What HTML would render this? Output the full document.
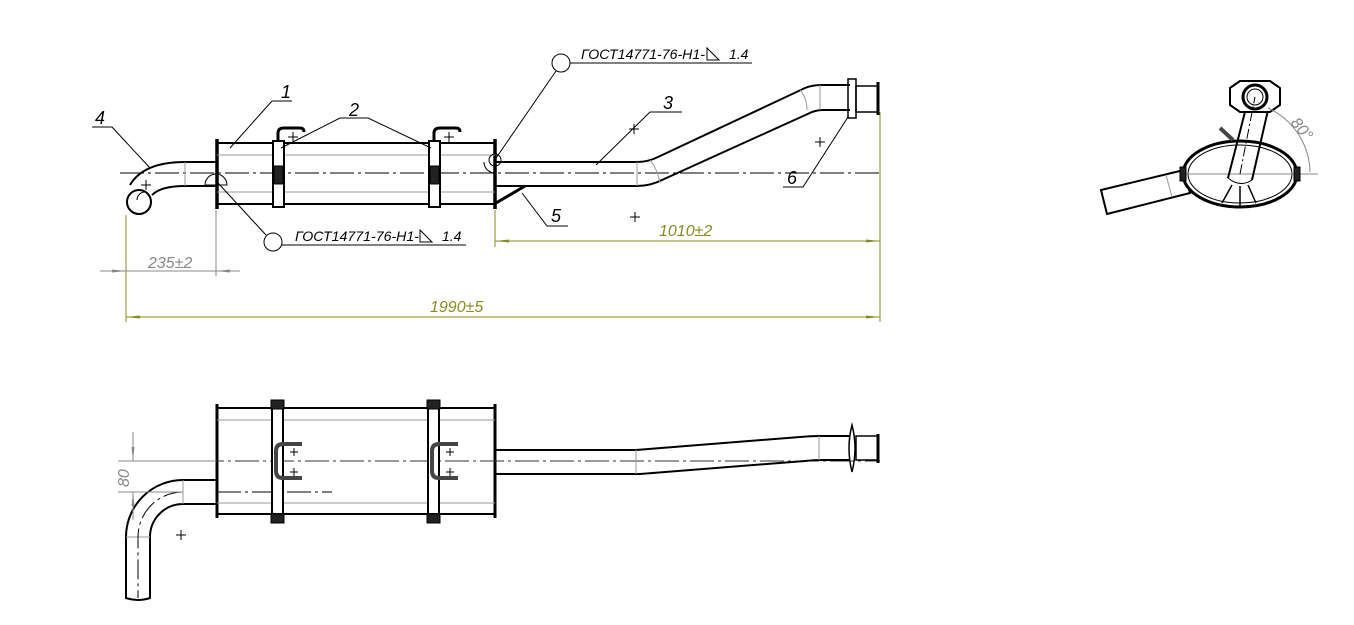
<!DOCTYPE html>
<html><head><meta charset="utf-8"><style>
html,body{margin:0;padding:0;background:#fff;width:1354px;height:625px;overflow:hidden}
svg{display:block}
text{font-family:"Liberation Sans",sans-serif;font-style:italic}
</style></head><body>
<svg width="1354" height="625" viewBox="0 0 1354 625" xmlns="http://www.w3.org/2000/svg">
<defs>
<marker id="ao" markerWidth="14" markerHeight="6" refX="14" refY="3" orient="auto" markerUnits="userSpaceOnUse"><path d="M0,1.5 L14,3 L0,4.5Z" fill="#8a8a1e"/></marker>
<marker id="ag" markerWidth="14" markerHeight="6" refX="14" refY="3" orient="auto" markerUnits="userSpaceOnUse"><path d="M0,1.5 L14,3 L0,4.5Z" fill="#888"/></marker>
</defs>
<g fill="none" stroke="#000" stroke-width="2">
<rect x="217" y="143" width="278" height="61"/>
<line x1="217" y1="139" x2="217" y2="209" stroke-width="3.5"/>
<line x1="495" y1="139" x2="495" y2="209" stroke-width="3.5"/>
<line x1="217" y1="155" x2="495" y2="155" stroke="#999" stroke-width="1"/>
<line x1="217" y1="192" x2="495" y2="192" stroke="#999" stroke-width="1"/>
<line x1="120" y1="173" x2="880" y2="173" stroke-width="1" stroke-dasharray="24,4,3,4"/>
<rect x="273" y="141" width="11" height="66" fill="#fff"/>
<rect x="429" y="141" width="11" height="66" fill="#fff"/>
<rect x="274" y="166" width="9" height="18" fill="#222" stroke-width="1"/>
<rect x="430" y="166" width="9" height="18" fill="#222" stroke-width="1"/>
<path d="M278,141 v-8 q0,-5 6,-5 h16 q4,0 4,4" stroke-width="3"/>
<path d="M434,141 v-8 q0,-5 6,-5 h16 q4,0 4,4" stroke-width="3"/>
<path d="M217,162 H185 C160,162 140,168 130,185" />
<path d="M217,186 H185 C170,186 158,189 152,195"/>
<line x1="185" y1="162" x2="185" y2="186" stroke="#999" stroke-width="1"/>
<circle cx="139" cy="202" r="12"/>
<path d="M145,192 a8,8 0 0 0 -8,8" stroke-width="1"/>
<path d="M495,162 H637 Q648,162 658,157 L805,88 Q812,85 822,85 H850"/>
<path d="M495,186 H637 Q650,186 662,180 L812,112 Q818,110 822,110 H850"/>
<line x1="637" y1="162" x2="637" y2="186" stroke="#999" stroke-width="1"/>
<line x1="820" y1="85" x2="820" y2="110" stroke="#999" stroke-width="1"/>
<path d="M650,160 Q658,170 660,183" stroke="#999" stroke-width="1"/>
<path d="M800,90 Q807,98 807,110" stroke="#999" stroke-width="1"/>
<path d="M848,79 H856 V118 H848 Z" stroke-width="1.5"/>
<rect x="856" y="86" width="22" height="26" stroke-width="1.5"/>
<line x1="878" y1="82" x2="878" y2="115" stroke-width="3"/>
<line x1="496" y1="203" x2="525" y2="186" stroke-width="3"/>
<path d="M205,185 a11,11 0 0 1 22,0 z" stroke-width="1"/>
<path d="M484,162 a11,11 0 0 0 11,11" stroke-width="1"/>
<circle cx="495" cy="160" r="6" stroke-width="1"/>
</g>
<g fill="none" stroke="#000" stroke-width="1">
<polyline points="230,148 272,101 292,101"/>
<polyline points="281,148 340,118 368,118 431,148"/>
<polyline points="596,165 650,112 682,112"/>
<polyline points="150,168 112,127 92,127"/>
<polyline points="522,193 547,226 568,226"/>
<polyline points="848,117 803,187 783,187"/>
<circle cx="561" cy="63" r="9"/>
<line x1="570" y1="63" x2="752" y2="63"/>
<line x1="556" y1="71" x2="494" y2="161"/>
<circle cx="273" cy="242" r="9"/>
<line x1="282" y1="245" x2="466" y2="245"/>
<line x1="266" y1="235" x2="218" y2="183"/>
<path d="M707,48 L707,60 L719,60 Z"/>
<path d="M420,230 L420,242 L432,242 Z"/>
</g>
<g font-size="18" fill="#000">
<text x="281" y="98">1</text><text x="349" y="116">2</text><text x="663" y="109">3</text>
<text x="95" y="124">4</text><text x="551" y="222">5</text><text x="787" y="184">6</text>
</g>
<g font-size="14" fill="#000">
<text x="581" y="59" textLength="124" lengthAdjust="spacingAndGlyphs">ГОСТ14771-76-Н1-</text><text x="729" y="59">1.4</text>
<text x="295" y="241" textLength="124" lengthAdjust="spacingAndGlyphs">ГОСТ14771-76-Н1-</text><text x="442" y="241">1.4</text>
</g>
<g stroke="#000" stroke-width="1">
<path d="M629,129h10M634,124v10M630,217h10M635,212v10M815,142h10M820,137v10M141,185h10M146,180v10M288,137h10M293,132v10M444,137h10M449,132v10"/>
</g>
<g stroke="#8a8a1e" stroke-width="1" fill="none">
<line x1="126" y1="215" x2="126" y2="322"/>
<line x1="880" y1="112" x2="880" y2="322"/>
<line x1="495" y1="210" x2="495" y2="247"/>
<line x1="690" y1="241" x2="495" y2="241" marker-end="url(#ao)"/>
<line x1="690" y1="241" x2="880" y2="241" marker-end="url(#ao)"/>
<line x1="500" y1="317" x2="126" y2="317" marker-end="url(#ao)"/>
<line x1="500" y1="317" x2="880" y2="317" marker-end="url(#ao)"/>
</g>
<g stroke="#888" stroke-width="1" fill="none">
<line x1="216" y1="210" x2="216" y2="276"/>
<line x1="100" y1="271" x2="126" y2="271" marker-end="url(#ag)"/>
<line x1="240" y1="271" x2="216" y2="271" marker-end="url(#ag)"/>
<line x1="126" y1="271" x2="216" y2="271"/>
</g>
<g font-size="16" fill="#8a8a1e"><text x="659" y="236">1010±2</text><text x="430" y="312">1990±5</text></g>
<text x="148" y="268" font-size="16" fill="#888">235±2</text>

<g fill="none" stroke="#000" stroke-width="2">
<rect x="217" y="408" width="278" height="106"/>
<line x1="217" y1="404" x2="217" y2="518" stroke-width="3"/>
<line x1="495" y1="404" x2="495" y2="518" stroke-width="3"/>
<line x1="217" y1="420" x2="495" y2="420" stroke="#999" stroke-width="1"/>
<line x1="217" y1="503" x2="495" y2="503" stroke="#999" stroke-width="1"/>
<line x1="130" y1="461" x2="880" y2="461" stroke-width="1" stroke-dasharray="24,4,3,4" stroke="#333"/>
<line x1="217" y1="492" x2="332" y2="492" stroke-width="1" stroke-dasharray="24,4,3,4"/>
<rect x="272" y="408" width="11" height="106" fill="#fff"/>
<rect x="428" y="408" width="11" height="106" fill="#fff"/>
<rect x="271" y="400" width="13" height="9" fill="#222" stroke-width="1"/>
<rect x="427" y="400" width="13" height="9" fill="#222" stroke-width="1"/>
<rect x="271" y="514" width="13" height="9" fill="#222" stroke-width="1"/>
<rect x="427" y="514" width="13" height="9" fill="#222" stroke-width="1"/>
<path d="M302,444 H283 Q276,444 276,451 V471 Q276,478 283,478 H302" stroke-width="4" stroke="#444"/>
<path d="M458,444 H439 Q432,444 432,451 V471 Q432,478 439,478 H458" stroke-width="4" stroke="#444"/>
<path d="M217,480 H183 A57,57 0 0 0 126,537 V598 Q138,602 150,598 V537 A33,33 0 0 1 183,504 H217"/>
<line x1="183" y1="480" x2="183" y2="504" stroke="#999" stroke-width="1"/>
<line x1="126" y1="537" x2="150" y2="537" stroke="#999" stroke-width="1"/>
<path d="M183,492 A45,45 0 0 0 138,537 V598" stroke-width="1" stroke-dasharray="20,4,3,4"/>
<path d="M495,450 H636 L800,437 Q810,436 820,436 H849"/>
<path d="M495,474 H640 L805,461 Q815,460 820,460 H849"/>
<line x1="636" y1="450" x2="636" y2="474" stroke="#999" stroke-width="1"/>
<line x1="819" y1="436" x2="819" y2="460" stroke="#999" stroke-width="1"/>
<path d="M852,425 Q846,448 852,472 Q858,448 852,425Z" stroke-width="1.5"/>
<rect x="856" y="436" width="22" height="24" stroke-width="1.5"/>
<line x1="878" y1="434" x2="878" y2="463" stroke-width="3"/>
</g>
<g stroke="#000" stroke-width="1"><path d="M176,535h10M181,530v10M290,452h8M294,448v8M290,472h8M294,468v8M446,452h8M450,448v8M446,472h8M450,468v8"/></g>
<g stroke="#888" stroke-width="1" fill="none">
<line x1="118" y1="461" x2="216" y2="461"/>
<line x1="118" y1="492" x2="183" y2="492"/>
<line x1="133" y1="432" x2="133" y2="461" marker-end="url(#ag)"/>
<line x1="133" y1="520" x2="133" y2="492" marker-end="url(#ag)"/>
</g>
<text x="0" y="0" font-size="16" fill="#888" transform="translate(129,487) rotate(-90)">80</text>

<g fill="none" stroke="#000" stroke-width="2">
<path d="M1101,190 L1107,214 L1190,193 L1184,170 Z" fill="#fff"/>
<line x1="1166" y1="175" x2="1172" y2="197" stroke="#999" stroke-width="1"/>
<ellipse cx="1240" cy="174" rx="57" ry="33" fill="#fff" stroke-width="3"/>
<ellipse cx="1240" cy="174" rx="52" ry="29" stroke-width="1"/>
<line x1="1183" y1="174" x2="1318" y2="174" stroke="#888" stroke-width="1"/>
<rect x="1180" y="167" width="6" height="14" fill="#222" stroke-width="1"/>
<rect x="1294" y="167" width="6" height="14" fill="#222" stroke-width="1"/>
<path d="M1228,178 L1246,108 M1252,180 L1268,110" />
<path d="M1228,178 Q1240,188 1252,180" stroke-width="1"/>
<path d="M1232,185 L1222,203 M1248,185 L1256,203 M1240,186 V206" stroke-width="1.5"/>
<line x1="1220" y1="128" x2="1233" y2="140" stroke-width="4" stroke="#444"/>
<path d="M1230,88 L1240,81 H1270 L1280,88 V105 L1270,112 H1240 L1230,105 Z" fill="#fff" stroke-width="2"/>
<circle cx="1255" cy="97" r="12" stroke-width="3" fill="#fff"/>
<circle cx="1255" cy="97" r="8" stroke-width="1"/>
<line x1="1240" y1="174" x2="1255" y2="97" stroke-width="1" stroke-dasharray="10,3,2,3"/>
<path d="M1268,108 A72,72 0 0 1 1310,172" stroke="#888" stroke-width="1"/>
</g>
<text x="0" y="0" font-size="16" fill="#888" transform="translate(1290,123) rotate(50)">80°</text>
</svg>
</body></html>
